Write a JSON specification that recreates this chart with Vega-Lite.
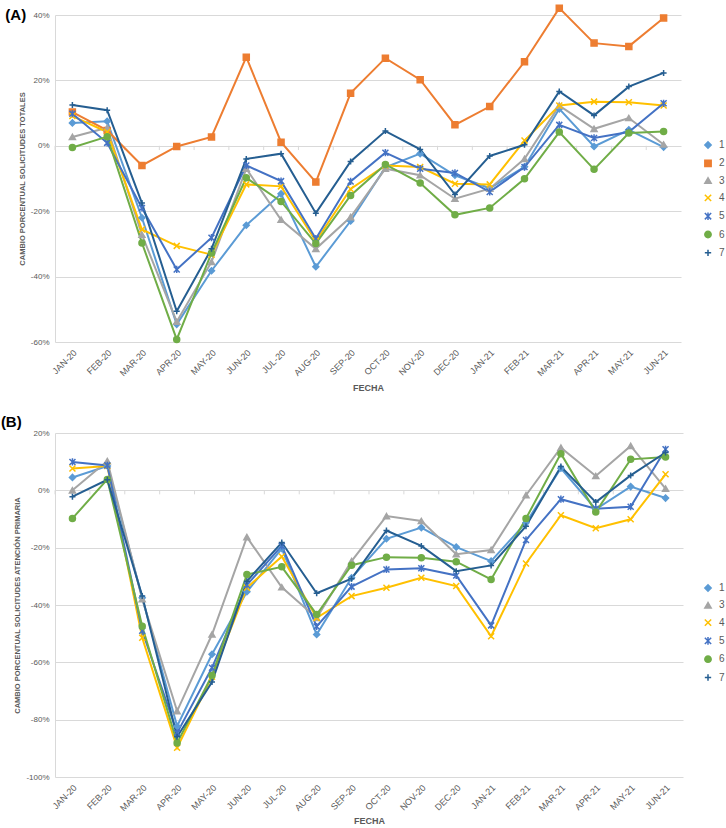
{
"$schema": "https://vega.github.io/schema/vega-lite/v6.json",
"padding": {"left": 0, "top": 2, "right": 0, "bottom": 0},
"spacing": 21,
"background": "white",
"config": {
  "view": {"stroke": null},
  "font": "Liberation Sans",
  "axis": {"labelFont": "Liberation Sans", "titleFont": "Liberation Sans", "labelColor": "#595959", "titleColor": "#595959", "gridColor": "#D9D9D9", "gridWidth": 1},
  "legend": {"labelFont": "Liberation Sans", "labelColor": "#595959"},
  "title": {"font": "Liberation Sans", "fontWeight": "bold", "fontSize": 15, "color": "#000000", "anchor": "start", "frame": "bounds", "offset": 0}
},
"resolve": {"scale": {"stroke": "independent", "fill": "independent", "shape": "independent"}},
"datasets": {
"a": [
{"m":"JAN-20","s":"1","v":7.0},{"m":"FEB-20","s":"1","v":7.5},{"m":"MAR-20","s":"1","v":-22},{"m":"APR-20","s":"1","v":-54.6},{"m":"MAY-20","s":"1","v":-38.2},{"m":"JUN-20","s":"1","v":-24.3},{"m":"JUL-20","s":"1","v":-14.7},{"m":"AUG-20","s":"1","v":-37},{"m":"SEP-20","s":"1","v":-23},{"m":"OCT-20","s":"1","v":-6.6},{"m":"NOV-20","s":"1","v":-2.4},{"m":"DEC-20","s":"1","v":-9},{"m":"JAN-21","s":"1","v":-13},{"m":"FEB-21","s":"1","v":-6.4},{"m":"MAR-21","s":"1","v":11.3},{"m":"APR-21","s":"1","v":-0.2},{"m":"MAY-21","s":"1","v":4.9},{"m":"JUN-21","s":"1","v":-0.4},
{"m":"JAN-20","s":"2","v":10.3},{"m":"FEB-20","s":"2","v":4.7},{"m":"MAR-20","s":"2","v":-6.0},{"m":"APR-20","s":"2","v":-0.2},{"m":"MAY-20","s":"2","v":2.7},{"m":"JUN-20","s":"2","v":27.1},{"m":"JUL-20","s":"2","v":1.1},{"m":"AUG-20","s":"2","v":-11.1},{"m":"SEP-20","s":"2","v":16.1},{"m":"OCT-20","s":"2","v":26.8},{"m":"NOV-20","s":"2","v":20.2},{"m":"DEC-20","s":"2","v":6.4},{"m":"JAN-21","s":"2","v":12.0},{"m":"FEB-21","s":"2","v":25.7},{"m":"MAR-21","s":"2","v":42.1},{"m":"APR-21","s":"2","v":31.4},{"m":"MAY-21","s":"2","v":30.4},{"m":"JUN-21","s":"2","v":39.1},
{"m":"JAN-20","s":"3","v":2.7},{"m":"FEB-20","s":"3","v":5.5},{"m":"MAR-20","s":"3","v":-27.2},{"m":"APR-20","s":"3","v":-53.8},{"m":"MAY-20","s":"3","v":-35.5},{"m":"JUN-20","s":"3","v":-7},{"m":"JUL-20","s":"3","v":-22.6},{"m":"AUG-20","s":"3","v":-31.5},{"m":"SEP-20","s":"3","v":-21.8},{"m":"OCT-20","s":"3","v":-7},{"m":"NOV-20","s":"3","v":-9},{"m":"DEC-20","s":"3","v":-16.2},{"m":"JAN-21","s":"3","v":-13.1},{"m":"FEB-21","s":"3","v":-4},{"m":"MAR-21","s":"3","v":12.3},{"m":"APR-21","s":"3","v":5.2},{"m":"MAY-21","s":"3","v":8.5},{"m":"JUN-21","s":"3","v":0.4},
{"m":"JAN-20","s":"4","v":9.1},{"m":"FEB-20","s":"4","v":4.2},{"m":"MAR-20","s":"4","v":-25.6},{"m":"APR-20","s":"4","v":-30.6},{"m":"MAY-20","s":"4","v":-33.3},{"m":"JUN-20","s":"4","v":-11.8},{"m":"JUL-20","s":"4","v":-12.4},{"m":"AUG-20","s":"4","v":-29.2},{"m":"SEP-20","s":"4","v":-13.2},{"m":"OCT-20","s":"4","v":-6},{"m":"NOV-20","s":"4","v":-6.5},{"m":"DEC-20","s":"4","v":-11.6},{"m":"JAN-21","s":"4","v":-11.8},{"m":"FEB-21","s":"4","v":1.6},{"m":"MAR-21","s":"4","v":12.3},{"m":"APR-21","s":"4","v":13.5},{"m":"MAY-21","s":"4","v":13.3},{"m":"JUN-21","s":"4","v":12.3},
{"m":"JAN-20","s":"5","v":9.8},{"m":"FEB-20","s":"5","v":0.9},{"m":"MAR-20","s":"5","v":-19},{"m":"APR-20","s":"5","v":-37.8},{"m":"MAY-20","s":"5","v":-28.1},{"m":"JUN-20","s":"5","v":-6},{"m":"JUL-20","s":"5","v":-10.8},{"m":"AUG-20","s":"5","v":-28.4},{"m":"SEP-20","s":"5","v":-10.9},{"m":"OCT-20","s":"5","v":-2.1},{"m":"NOV-20","s":"5","v":-7},{"m":"DEC-20","s":"5","v":-8.3},{"m":"JAN-21","s":"5","v":-14.1},{"m":"FEB-21","s":"5","v":-6.5},{"m":"MAR-21","s":"5","v":6.4},{"m":"APR-21","s":"5","v":2.4},{"m":"MAY-21","s":"5","v":4.2},{"m":"JUN-21","s":"5","v":13},
{"m":"JAN-20","s":"6","v":-0.5},{"m":"FEB-20","s":"6","v":2.8},{"m":"MAR-20","s":"6","v":-29.7},{"m":"APR-20","s":"6","v":-59.2},{"m":"MAY-20","s":"6","v":-32.8},{"m":"JUN-20","s":"6","v":-9.8},{"m":"JUL-20","s":"6","v":-17},{"m":"AUG-20","s":"6","v":-29.9},{"m":"SEP-20","s":"6","v":-15.2},{"m":"OCT-20","s":"6","v":-5.7},{"m":"NOV-20","s":"6","v":-11.4},{"m":"DEC-20","s":"6","v":-21.1},{"m":"JAN-21","s":"6","v":-19},{"m":"FEB-21","s":"6","v":-10.1},{"m":"MAR-21","s":"6","v":4.2},{"m":"APR-21","s":"6","v":-7.2},{"m":"MAY-21","s":"6","v":3.9},{"m":"JUN-21","s":"6","v":4.4},
{"m":"JAN-20","s":"7","v":12.5},{"m":"FEB-20","s":"7","v":10.9},{"m":"MAR-20","s":"7","v":-17.5},{"m":"APR-20","s":"7","v":-50.6},{"m":"MAY-20","s":"7","v":-31.5},{"m":"JUN-20","s":"7","v":-4},{"m":"JUL-20","s":"7","v":-2.4},{"m":"AUG-20","s":"7","v":-20.6},{"m":"SEP-20","s":"7","v":-4.8},{"m":"OCT-20","s":"7","v":4.5},{"m":"NOV-20","s":"7","v":-1.1},{"m":"DEC-20","s":"7","v":-14.9},{"m":"JAN-21","s":"7","v":-3.1},{"m":"FEB-21","s":"7","v":0.3},{"m":"MAR-21","s":"7","v":16.6},{"m":"APR-21","s":"7","v":9.3},{"m":"MAY-21","s":"7","v":18.1},{"m":"JUN-21","s":"7","v":22.3}
],
"b": [
{"m":"JAN-20","s":"1","v":4.5},{"m":"FEB-20","s":"1","v":8.5},{"m":"MAR-20","s":"1","v":-37.5},{"m":"APR-20","s":"1","v":-82.3},{"m":"MAY-20","s":"1","v":-57.2},{"m":"JUN-20","s":"1","v":-35.4},{"m":"JUL-20","s":"1","v":-20.3},{"m":"AUG-20","s":"1","v":-50.3},{"m":"SEP-20","s":"1","v":-30.5},{"m":"OCT-20","s":"1","v":-16.9},{"m":"NOV-20","s":"1","v":-13},{"m":"DEC-20","s":"1","v":-19.8},{"m":"JAN-21","s":"1","v":-24.7},{"m":"FEB-21","s":"1","v":-11.3},{"m":"MAR-21","s":"1","v":7.7},{"m":"APR-21","s":"1","v":-6.6},{"m":"MAY-21","s":"1","v":1.3},{"m":"JUN-21","s":"1","v":-2.7},
{"m":"JAN-20","s":"3","v":0},{"m":"FEB-20","s":"3","v":10.2},{"m":"MAR-20","s":"3","v":-38},{"m":"APR-20","s":"3","v":-77},{"m":"MAY-20","s":"3","v":-50.3},{"m":"JUN-20","s":"3","v":-16.3},{"m":"JUL-20","s":"3","v":-33.8},{"m":"AUG-20","s":"3","v":-44.5},{"m":"SEP-20","s":"3","v":-24.7},{"m":"OCT-20","s":"3","v":-9},{"m":"NOV-20","s":"3","v":-10.7},{"m":"DEC-20","s":"3","v":-22.3},{"m":"JAN-21","s":"3","v":-20.8},{"m":"FEB-21","s":"3","v":-1.7},{"m":"MAR-21","s":"3","v":14.9},{"m":"APR-21","s":"3","v":5},{"m":"MAY-21","s":"3","v":15.5},{"m":"JUN-21","s":"3","v":0.6},
{"m":"JAN-20","s":"4","v":7.6},{"m":"FEB-20","s":"4","v":8.5},{"m":"MAR-20","s":"4","v":-51.4},{"m":"APR-20","s":"4","v":-89.8},{"m":"MAY-20","s":"4","v":-65},{"m":"JUN-20","s":"4","v":-34},{"m":"JUL-20","s":"4","v":-23.1},{"m":"AUG-20","s":"4","v":-44.5},{"m":"SEP-20","s":"4","v":-36.9},{"m":"OCT-20","s":"4","v":-34},{"m":"NOV-20","s":"4","v":-30.5},{"m":"DEC-20","s":"4","v":-33.4},{"m":"JAN-21","s":"4","v":-50.9},{"m":"FEB-21","s":"4","v":-25.5},{"m":"MAR-21","s":"4","v":-8.7},{"m":"APR-21","s":"4","v":-13.2},{"m":"MAY-21","s":"4","v":-10.1},{"m":"JUN-21","s":"4","v":5.6},
{"m":"JAN-20","s":"5","v":9.9},{"m":"FEB-20","s":"5","v":8.7},{"m":"MAR-20","s":"5","v":-49},{"m":"APR-20","s":"5","v":-84.6},{"m":"MAY-20","s":"5","v":-61.9},{"m":"JUN-20","s":"5","v":-33},{"m":"JUL-20","s":"5","v":-19.4},{"m":"AUG-20","s":"5","v":-47.5},{"m":"SEP-20","s":"5","v":-33.6},{"m":"OCT-20","s":"5","v":-27.6},{"m":"NOV-20","s":"5","v":-27.2},{"m":"DEC-20","s":"5","v":-29.7},{"m":"JAN-21","s":"5","v":-47.1},{"m":"FEB-21","s":"5","v":-17.3},{"m":"MAR-21","s":"5","v":-3.1},{"m":"APR-21","s":"5","v":-6.4},{"m":"MAY-21","s":"5","v":-5.7},{"m":"JUN-21","s":"5","v":14.3},
{"m":"JAN-20","s":"6","v":-9.8},{"m":"FEB-20","s":"6","v":3.8},{"m":"MAR-20","s":"6","v":-47.4},{"m":"APR-20","s":"6","v":-88.1},{"m":"MAY-20","s":"6","v":-64.6},{"m":"JUN-20","s":"6","v":-29.4},{"m":"JUL-20","s":"6","v":-26.7},{"m":"AUG-20","s":"6","v":-43.3},{"m":"SEP-20","s":"6","v":-26.1},{"m":"OCT-20","s":"6","v":-23.3},{"m":"NOV-20","s":"6","v":-23.5},{"m":"DEC-20","s":"6","v":-24.9},{"m":"JAN-21","s":"6","v":-31.1},{"m":"FEB-21","s":"6","v":-9.8},{"m":"MAR-21","s":"6","v":12.8},{"m":"APR-21","s":"6","v":-7.6},{"m":"MAY-21","s":"6","v":10.8},{"m":"JUN-21","s":"6","v":11.6},
{"m":"JAN-20","s":"7","v":-2.2},{"m":"FEB-20","s":"7","v":3.7},{"m":"MAR-20","s":"7","v":-36.9},{"m":"APR-20","s":"7","v":-86},{"m":"MAY-20","s":"7","v":-66.9},{"m":"JUN-20","s":"7","v":-31.7},{"m":"JUL-20","s":"7","v":-18.2},{"m":"AUG-20","s":"7","v":-35.9},{"m":"SEP-20","s":"7","v":-30.8},{"m":"OCT-20","s":"7","v":-14},{"m":"NOV-20","s":"7","v":-19.4},{"m":"DEC-20","s":"7","v":-28.2},{"m":"JAN-21","s":"7","v":-26.2},{"m":"FEB-21","s":"7","v":-12.5},{"m":"MAR-21","s":"7","v":8.3},{"m":"APR-21","s":"7","v":-4.1},{"m":"MAY-21","s":"7","v":5.2},{"m":"JUN-21","s":"7","v":13.2}
]
},
"vconcat": [
{
  "title": {"text": "(A)", "dy": 25, "dx": -13},
  "width": 626, "height": 327,
  "data": {"name": "a"},
  "encoding": {
    "x": {"field": "m", "type": "ordinal", "bandPosition": 0.5,
      "scale": {"type": "band", "paddingInner": 0, "paddingOuter": 0, "domain": ["JAN-20","FEB-20","MAR-20","APR-20","MAY-20","JUN-20","JUL-20","AUG-20","SEP-20","OCT-20","NOV-20","DEC-20","JAN-21","FEB-21","MAR-21","APR-21","MAY-21","JUN-21"]},
      "axis": {"title": "FECHA", "titleFontSize": 9, "titleFontWeight": "bold", "titlePadding": 6, "labelAngle": -45, "labelFontSize": 9, "labelPadding": 6, "ticks": false, "domain": false, "grid": false}},
    "y": {"field": "v", "type": "quantitative",
      "scale": {"domain": [-60, 40], "nice": false, "zero": false},
      "axis": {"title": "CAMBIO PORCENTUAL SOLICITUDES TOTALES", "titleFontSize": 7.5, "titleFontWeight": "bold", "titlePadding": 4, "values": [-60,-40,-20,0,20,40], "labelExpr": "datum.value + '%'", "labelFontSize": 8, "labelPadding": 6, "ticks": false, "domain": true, "domainColor": "#D9D9D9", "grid": true}}
  },
  "layer": [
    {"transform": [{"filter": "datum.s == '1'"}],
     "mark": {"type": "rule", "color": "#D9D9D9", "strokeWidth": 1},
     "encoding": {"x": {"field": "m", "type": "ordinal", "bandPosition": 0}, "y": {"datum": 0}, "y2": {"datum": -1.3}}},
    {"mark": {"type": "line", "strokeWidth": 2},
     "encoding": {"stroke": {"field": "s", "type": "nominal",
        "scale": {"domain": ["1","2","3","4","5","6","7"], "range": ["#5B9BD5","#ED7D31","#A5A5A5","#FFC000","#4472C4","#70AD47","#255E91"]},
        "legend": {"title": null, "orient": "none", "direction": "vertical", "legendX": 648, "legendY": 125, "labelFontSize": 10, "rowPadding": 4.3, "labelOffset": 6, "symbolSize": 40, "symbolStrokeWidth": 1.5}}}},
    {"mark": {"type": "point", "filled": true, "size": 36, "strokeWidth": 1.5, "opacity": 1},
     "encoding": {
       "shape": {"field": "s", "type": "nominal", "scale": {"domain": ["1","2","3","4","5","6","7"], "range": ["diamond","square","triangle-up","M-1,-1L1,1M-1,1L1,-1","M-1,-1L1,1M-1,1L1,-1M0,-1.2L0,1.2","circle","M-1,0L1,0M0,-1L0,1"]},
        "legend": {"title": null, "orient": "none", "direction": "vertical", "legendX": 648, "legendY": 125, "labelFontSize": 10, "rowPadding": 4.3, "labelOffset": 6, "symbolSize": 40, "symbolStrokeWidth": 1.5}},
       "fill": {"field": "s", "type": "nominal", "scale": {"domain": ["1","2","3","4","5","6","7"], "range": ["#5B9BD5","#ED7D31","#A5A5A5","#FFC000","#4472C4","#70AD47","#255E91"]},
        "legend": {"title": null, "orient": "none", "direction": "vertical", "legendX": 648, "legendY": 125, "labelFontSize": 10, "rowPadding": 4.3, "labelOffset": 6, "symbolSize": 40, "symbolStrokeWidth": 1.5}},
       "stroke": {"field": "s", "type": "nominal"}
     }}
  ]
},
{
  "title": {"text": "(B)", "dy": 4.5, "dx": -13},
  "width": 628, "height": 344,
  "data": {"name": "b"},
  "encoding": {
    "x": {"field": "m", "type": "ordinal", "bandPosition": 0.5,
      "scale": {"type": "band", "paddingInner": 0, "paddingOuter": 0, "domain": ["JAN-20","FEB-20","MAR-20","APR-20","MAY-20","JUN-20","JUL-20","AUG-20","SEP-20","OCT-20","NOV-20","DEC-20","JAN-21","FEB-21","MAR-21","APR-21","MAY-21","JUN-21"]},
      "axis": {"title": "FECHA", "titleFontSize": 9, "titleFontWeight": "bold", "titlePadding": 4, "labelAngle": -45, "labelFontSize": 9, "labelPadding": 6, "ticks": false, "domain": false, "grid": false}},
    "y": {"field": "v", "type": "quantitative",
      "scale": {"domain": [-100, 20], "nice": false, "zero": false},
      "axis": {"title": "CAMBIO PORCENTUAL SOLICITUDES ATENCIÓN PRIMARIA", "titleFontSize": 7.5, "titleFontWeight": "bold", "titlePadding": 4, "values": [-100,-80,-60,-40,-20,0,20], "labelExpr": "datum.value + '%'", "labelFontSize": 8, "labelPadding": 6, "ticks": false, "domain": true, "domainColor": "#D9D9D9", "grid": true}}
  },
  "layer": [
    {"transform": [{"filter": "datum.s == '1'"}],
     "mark": {"type": "rule", "color": "#D9D9D9", "strokeWidth": 1},
     "encoding": {"x": {"field": "m", "type": "ordinal", "bandPosition": 0}, "y": {"datum": 0}, "y2": {"datum": -1.4}}},
    {"mark": {"type": "line", "strokeWidth": 2},
     "encoding": {"stroke": {"field": "s", "type": "nominal",
        "scale": {"domain": ["1","3","4","5","6","7"], "range": ["#5B9BD5","#A5A5A5","#FFC000","#4472C4","#70AD47","#255E91"]},
        "legend": {"title": null, "orient": "none", "direction": "vertical", "legendX": 648, "legendY": 150, "labelFontSize": 10, "rowPadding": 4.3, "labelOffset": 6, "symbolSize": 40, "symbolStrokeWidth": 1.5}}}},
    {"mark": {"type": "point", "filled": true, "size": 36, "strokeWidth": 1.5, "opacity": 1},
     "encoding": {
       "shape": {"field": "s", "type": "nominal", "scale": {"domain": ["1","3","4","5","6","7"], "range": ["diamond","triangle-up","M-1,-1L1,1M-1,1L1,-1","M-1,-1L1,1M-1,1L1,-1M0,-1.2L0,1.2","circle","M-1,0L1,0M0,-1L0,1"]},
        "legend": {"title": null, "orient": "none", "direction": "vertical", "legendX": 648, "legendY": 150, "labelFontSize": 10, "rowPadding": 4.3, "labelOffset": 6, "symbolSize": 40, "symbolStrokeWidth": 1.5}},
       "fill": {"field": "s", "type": "nominal", "scale": {"domain": ["1","3","4","5","6","7"], "range": ["#5B9BD5","#A5A5A5","#FFC000","#4472C4","#70AD47","#255E91"]},
        "legend": {"title": null, "orient": "none", "direction": "vertical", "legendX": 648, "legendY": 150, "labelFontSize": 10, "rowPadding": 4.3, "labelOffset": 6, "symbolSize": 40, "symbolStrokeWidth": 1.5}},
       "stroke": {"field": "s", "type": "nominal"}
     }}
  ]
}
]
}
